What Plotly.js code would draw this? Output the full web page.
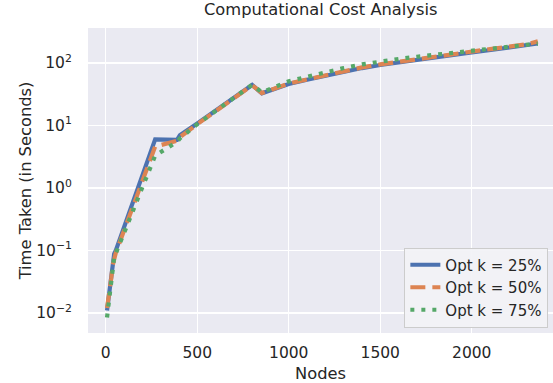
<!DOCTYPE html>
<html>
<head>
<meta charset="utf-8">
<script src="https://cdn.plot.ly/plotly-3.0.1.min.js"></script>
<style>html,body{margin:0;padding:0;background:#fff;}#chart{width:553px;height:383px;}</style>
</head>
<body>
<div id="chart"></div>
<script>
const nodes = [7, 20, 30, 38, 46, 55, 270, 390, 405, 500, 800, 853, 1000, 1100, 1200, 1300, 1400, 1500, 1600, 1700, 1800, 1900, 2000, 2100, 2200, 2300, 2361];
const optK25 = [0.011, 0.022, 0.040, 0.065, 0.088, 0.10, 6.0, 5.9, 7.0, 10.8, 44.5, 32.7, 46, 54, 63, 73, 83, 93, 103, 113, 124, 135, 147, 160, 174, 189, 205];
const optK50 = [0.012, 0.020, 0.036, 0.058, 0.080, 0.092, 4.6, 5.7, 6.5, 10.5, 44, 33, 47, 55, 64, 75, 85, 95, 105, 116, 128, 140, 153, 167, 182, 199, 222];
const optK75 = [0.0085, 0.018, 0.033, 0.055, 0.078, 0.090, 3.3, 5.5, 6.2, 10.5, 45, 34, 51, 60, 71, 83, 95, 106, 116, 126, 136, 146, 157, 168, 180, 193, 204];
const seriesNames = ["Opt k = 25%", "Opt k = 50%", "Opt k = 75%"];
const xTicks = [0, 500, 1000, 1500, 2000];
const yTicks = [0.01, 0.1, 1, 10, 100];
const yTickText = ["10<sup>\u22122</sup>", "10<sup>\u22121</sup>", "10<sup>0</sup>", "10<sup>1</sup>", "10<sup>2</sup>"];

const font = "DejaVu Sans, sans-serif";
const ink = "#262626";
const traces = [
  {x: nodes, y: optK25, name: seriesNames[0], mode: "lines", line: {color: "#4C72B0", width: 4.2}},
  {x: nodes, y: optK50, name: seriesNames[1], mode: "lines", line: {color: "#DD8452", width: 4.2, dash: "15px,7px"}},
  {x: nodes, y: optK75, name: seriesNames[2], mode: "lines", line: {color: "#55A868", width: 4.2, dash: "4px,7px"}}
];
const layout = {
  width: 553, height: 383,
  margin: {l: 88, r: 0, t: 28, b: 50},
  paper_bgcolor: "#ffffff",
  plot_bgcolor: "#EAEAF2",
  font: {family: font, size: 15.5, color: ink},
  title: {text: "Computational Cost Analysis", font: {family: font, size: 16.3, color: ink}, x: 0.58, xanchor: "center", y: 0.99, yanchor: "top"},
  xaxis: {
    range: [-97, 2444], tickvals: xTicks, ticktext: xTicks.map(String),
    showgrid: true, gridcolor: "#ffffff", gridwidth: 1.2, zeroline: false, showline: false,
    ticks: "outside", ticklen: 5, tickcolor: "rgba(0,0,0,0)",
    tickfont: {family: font, size: 15.5, color: ink},
    title: {text: "Nodes", font: {family: font, size: 16.3, color: ink}, standoff: 6}
  },
  yaxis: {
    type: "log", range: [-2.32, 2.56], tickvals: yTicks, ticktext: yTickText,
    showgrid: true, gridcolor: "#ffffff", gridwidth: 1.2, zeroline: false, showline: false,
    ticks: "outside", ticklen: 12, tickcolor: "rgba(0,0,0,0)",
    tickfont: {family: font, size: 15.5, color: ink},
    title: {text: "Time Taken (in Seconds)", font: {family: font, size: 16.3, color: ink}, standoff: 0}
  },
  legend: {
    x: 0.99, y: 0.018, xanchor: "right", yanchor: "bottom",
    bgcolor: "rgba(242,242,246,0.92)", bordercolor: "#cccccc", borderwidth: 1,
    font: {family: font, size: 15, color: ink},
    tracegroupgap: 0
  },
  showlegend: true
};
Plotly.newPlot("chart", traces, layout, {displayModeBar: false, staticPlot: true});
</script>
</body>
</html>
